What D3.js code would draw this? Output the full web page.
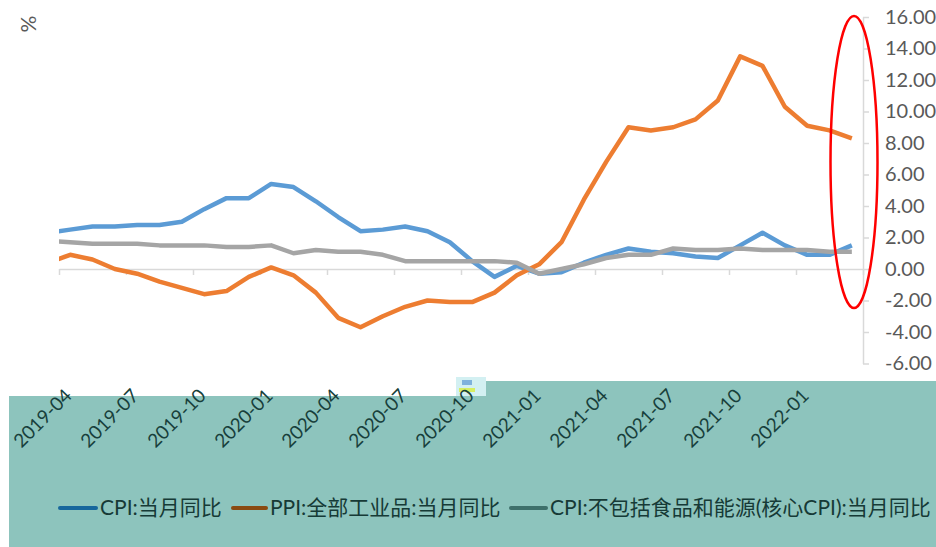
<!DOCTYPE html>
<html>
<head>
<meta charset="utf-8">
<script src="https://cdn.jsdelivr.net/npm/d3@7"></script>
<style>
  html, body { margin: 0; padding: 0; background: #fff; }
  svg { display: block; }
  text { font-family: Lato, "Noto Sans CJK SC", sans-serif; }
</style>
</head>
<body>
<svg id="viz"></svg>
<script>
var width = 936;
var height = 547;

// months, 2019-03 is only there so the line runs into the left edge
var months = ["2019-03", "2019-04", "2019-05", "2019-06", "2019-07", "2019-08", "2019-09", "2019-10",
    "2019-11", "2019-12", "2020-01", "2020-02", "2020-03", "2020-04", "2020-05", "2020-06",
    "2020-07", "2020-08", "2020-09", "2020-10", "2020-11", "2020-12", "2021-01", "2021-02",
    "2021-03", "2021-04", "2021-05", "2021-06", "2021-07", "2021-08", "2021-09", "2021-10",
    "2021-11", "2021-12", "2022-01", "2022-02", "2022-03"];

var cpi = [2.3, 2.5, 2.7, 2.7, 2.8, 2.8, 3.0, 3.8, 4.5, 4.5, 5.4, 5.2, 4.3, 3.3, 2.4, 2.5,
    2.7, 2.4, 1.7, 0.5, -0.5, 0.2, -0.3, -0.2, 0.4, 0.9, 1.3, 1.1, 1.0, 0.8, 0.7, 1.5,
    2.3, 1.5, 0.9, 0.9, 1.5];

var ppi = [0.4, 0.9, 0.6, 0.0, -0.3, -0.8, -1.2, -1.6, -1.4, -0.5, 0.1, -0.4, -1.5, -3.1, -3.7, -3.0,
    -2.4, -2.0, -2.1, -2.1, -1.5, -0.4, 0.3, 1.7, 4.4, 6.8, 9.0, 8.8, 9.0, 9.5, 10.7, 13.5,
    12.9, 10.3, 9.1, 8.8, 8.3];

var coreCpi = [1.8, 1.7, 1.6, 1.6, 1.6, 1.5, 1.5, 1.5, 1.4, 1.4, 1.5, 1.0, 1.2, 1.1, 1.1, 0.9,
    0.5, 0.5, 0.5, 0.5, 0.5, 0.4, -0.3, 0.0, 0.3, 0.7, 0.9, 0.9, 1.3, 1.2, 1.2, 1.3,
    1.2, 1.2, 1.2, 1.1, 1.1];

var xLabels = ["2019-04", "2019-07", "2019-10", "2020-01", "2020-04", "2020-07", "2020-10",
    "2021-01", "2021-04", "2021-07", "2021-10", "2022-01"];

var yTicks = [-6, -4, -2, 0, 2, 4, 6, 8, 10, 12, 14, 16];

var seriesNames = ["CPI:当月同比", "PPI:全部工业品:当月同比", "CPI:不包括食品和能源(核心CPI):当月同比"];

var series = [
    {name: seriesNames[0], values: cpi, color: "#5b9bd5", key: "#17679c"},
    {name: seriesNames[1], values: ppi, color: "#ed7d31", key: "#8a4b12"},
    {name: seriesNames[2], values: coreCpi, color: "#a5a5a5", key: "#3e706b"}
];

var svg = d3.select("#viz").attr("width", width).attr("height", height);

// teal band at the bottom (screenshot background)
svg.append("path")
    .attr("d", "M9,396 L486,396 L486,381 L936,381 L936,547 L9,547 Z")
    .attr("fill", "#8dc4bd");
svg.append("rect").attr("x", 456).attr("y", 377).attr("width", 30).attr("height", 19).attr("fill", "#d3f0f2");
svg.append("rect").attr("x", 459).attr("y", 388).attr("width", 16).attr("height", 4).attr("fill", "#d6ee62");
svg.append("rect").attr("x", 462).attr("y", 380).attr("width", 10).attr("height", 5).attr("fill", "#7fb2dc");

var x = d3.scaleLinear().domain([0.5, months.length - 0.5]).range([59, 863]);
var y = d3.scaleLinear().domain([-6, 16]).range([363.5, 17]);

svg.append("defs").append("clipPath").attr("id", "plot")
    .append("rect").attr("x", 59).attr("y", 0).attr("width", 804).attr("height", 380);

// x axis along zero
var bounds = d3.range(0.5, months.length, 3);
var xAxis = svg.append("g")
    .attr("transform", "translate(0," + y(0) + ")")
    .call(d3.axisBottom(x).tickValues(bounds).tickSize(6).tickSizeOuter(0).tickFormat(""));
xAxis.selectAll("path, line").attr("stroke", "#d9d9d9").attr("stroke-width", 1.5);

// y axis on the right
var yAxis = svg.append("g")
    .attr("transform", "translate(" + x(months.length - 0.5) + ",0)")
    .call(d3.axisRight(y).tickValues(yTicks).tickSize(6).tickSizeOuter(0).tickPadding(16)
        .tickFormat(function(d) { return d.toFixed(2); }));
yAxis.selectAll("path, line").attr("stroke", "#d9d9d9").attr("stroke-width", 1.5);
yAxis.selectAll("text").attr("fill", "#595959").style("font-size", "20px");

svg.append("text")
    .attr("transform", "translate(36,24) rotate(-90)")
    .attr("text-anchor", "middle")
    .attr("fill", "#595959")
    .style("font-size", "21px")
    .text("%");

// category labels
svg.append("g").selectAll("text")
    .data(xLabels).enter()
    .append("text")
    .attr("transform", function(d) {
        return "translate(" + (x(months.indexOf(d)) + 3) + ",397) rotate(-45)";
    })
    .attr("text-anchor", "end")
    .attr("fill", "#183f3b")
    .style("font-size", "19px")
    .text(function(d) { return d; });

// lines
var line = d3.line()
    .x(function(d, i) { return x(i); })
    .y(function(d) { return y(d); });

svg.append("g").attr("clip-path", "url(#plot)")
    .selectAll("path")
    .data(series).enter()
    .append("path")
    .attr("d", function(d) { return line(d.values); })
    .attr("fill", "none")
    .attr("stroke", function(d) { return d.color; })
    .attr("stroke-width", 4.5)
    .attr("stroke-linejoin", "round");

// legend
var legendX = [[58, 100], [231, 270], [509, 550]];
var legend = svg.append("g").selectAll("g")
    .data(series).enter()
    .append("g");
legend.append("line")
    .attr("x1", function(d, i) { return legendX[i][0] + 2; })
    .attr("x2", function(d, i) { return legendX[i][1] - 4; })
    .attr("y1", 508).attr("y2", 508)
    .attr("stroke", function(d) { return d.key; })
    .attr("stroke-width", 4)
    .attr("stroke-linecap", "round");
legend.append("text")
    .attr("x", function(d, i) { return legendX[i][1]; })
    .attr("y", 515)
    .attr("fill", "#163a36")
    .style("font-size", "21px")
    .text(function(d) { return d.name; });

// red marker ellipse
svg.append("ellipse")
    .attr("cx", 854).attr("cy", 162).attr("rx", 23.5).attr("ry", 146)
    .attr("fill", "none")
    .attr("stroke", "#ff0000")
    .attr("stroke-width", 2.5);
</script>
</body>
</html>
